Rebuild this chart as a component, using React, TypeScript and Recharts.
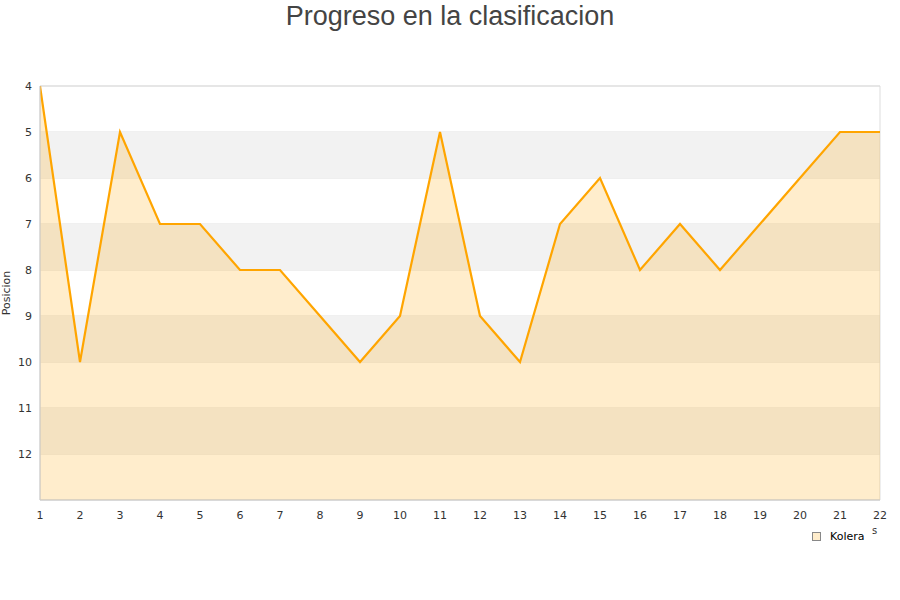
import React from 'react';
import { ComposedChart, Area, XAxis, YAxis, CartesianGrid, ReferenceArea, Label } from 'recharts';

const jornadas = [1, 2, 3, 4, 5, 6, 7, 8, 9, 10, 11, 12, 13, 14, 15, 16, 17, 18, 19, 20, 21, 22];
const posiciones = [4, 10, 5, 7, 7, 8, 8, 9, 10, 9, 5, 9, 10, 7, 6, 8, 7, 8, 7, 6, 5, 5];
const yTicks = [4, 5, 6, 7, 8, 9, 10, 11, 12];
const bandStarts = [5, 7, 9, 11];
const seriesName = 'Kolera';

const data = jornadas.map((j, i) => ({ jornada: j, pos: posiciones[i] }));

export default function App() {
  const font = '"DejaVu Sans", Verdana, sans-serif';
  return (
    <div style={{ position: 'absolute', left: 0, top: 0, width: 900, height: 600, fontFamily: font, background: '#fff' }}>
      <div style={{ position: 'absolute', left: 0, top: 0, width: 900, textAlign: 'center', fontSize: 27, color: '#444', lineHeight: '32px', fontFamily: '"Liberation Sans", Arial, sans-serif' }}>
        Progreso en la clasificacion
      </div>
      <ComposedChart width={900} height={600} data={data} margin={{ top: 86, right: 20, bottom: 70, left: 0 }}>
        {bandStarts.map((b) => (
          <ReferenceArea key={b} y1={b} y2={b + 1} x1={1} x2={22} fill="#f2f2f2" fillOpacity={1} stroke="none" ifOverflow="hidden" />
        ))}
        <CartesianGrid vertical={false} stroke="#e0e0e0" strokeDasharray="" />
        <ReferenceArea y1={4} y2={13} x1={1} x2={22} fill="none" stroke="#dddddd" strokeWidth={1} />
        <XAxis
          dataKey="jornada"
          type="number"
          domain={[1, 22]}
          ticks={jornadas}
          interval={0}
          tickLine={false}
          tickMargin={5}
          axisLine={{ stroke: '#cccccc' }}
          tick={{ fontSize: 11, fill: '#333', fontFamily: font }}
          height={30}
          allowDataOverflow
        />
        <YAxis
          type="number"
          reversed
          domain={[4, 13]}
          ticks={yTicks}
          interval={0}
          width={40}
          tickLine={false}
          axisLine={{ stroke: '#cccccc' }}
          tick={{ fontSize: 11, fill: '#333', fontFamily: font }}
          allowDataOverflow
        >
          <Label value="Posicion" angle={-90} position="insideLeft" offset={6} style={{ fontSize: 11, fill: '#333', fontFamily: font, textAnchor: 'middle' }} />
        </YAxis>
        <Area
          type="linear"
          dataKey="pos"
          name={seriesName}
          baseValue={13}
          stroke="#FFA500"
          strokeWidth={2.2}
          fill="#FFA500"
          fillOpacity={0.2}
          dot={false}
          activeDot={false}
          isAnimationActive={false}
        />
      </ComposedChart>
      <div style={{ position: 'absolute', left: 872, top: 525, fontSize: 10, color: '#333' }}>s</div>
      <div style={{ position: 'absolute', left: 812, top: 530, display: 'flex', alignItems: 'center', fontSize: 11, color: '#000' }}>
        <span style={{ display: 'inline-block', width: 7, height: 7, background: '#FFEDCC', border: '1px solid #888', marginRight: 9 }} />
        <span>{seriesName}</span>
      </div>
    </div>
  );
}
